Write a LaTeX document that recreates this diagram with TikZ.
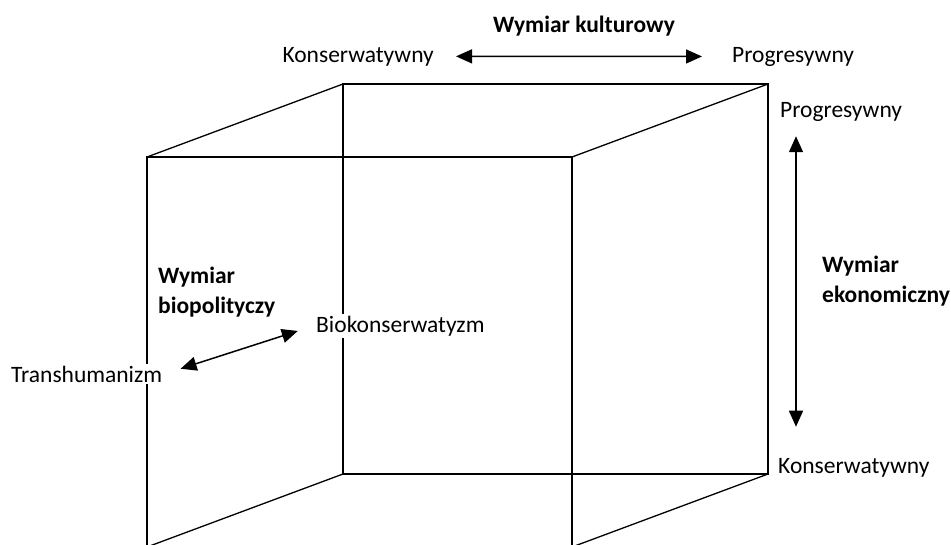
\documentclass[tikz,border=0pt]{standalone}
\usepackage{fontspec}
\setmainfont{Carlito}
\usepackage{tikz}
\usetikzlibrary{arrows.meta, positioning}

\begin{document}
\begin{tikzpicture}[
    x=1pt, y=-1pt,
    cubeline/.style={line width=1.3pt, line join=miter},
    lbl/.style={font=\fontsize{23.5}{30}\selectfont, fill=white, inner sep=2pt},
    hdr/.style={lbl, font=\fontsize{23.5}{30}\selectfont\bfseries, align=left},
    arr/.style={{Triangle[length=16pt, width=14pt]}-{Triangle[length=16pt, width=14pt]}, line width=1.5pt}
]
\useasboundingbox (0,0) rectangle (951,544);
\clip (0,0) rectangle (951,544);

% Cube corners (back face, front face)
\coordinate (b1) at (343,84);
\coordinate (b2) at (768,84);
\coordinate (b3) at (768,474);
\coordinate (b4) at (343,474);
\coordinate (f1) at (147,157);
\coordinate (f2) at (572,157);
\coordinate (f3) at (572,547);
\coordinate (f4) at (147,547);

% Cube
\draw[cubeline] (b1) -- (b2) -- (b3) -- (b4) -- cycle;
\draw[cubeline] (f1) -- (f2) -- (f3) -- (f4) -- cycle;
\draw[cubeline] (b1) -- (f1);
\draw[cubeline] (b2) -- (f2);
\draw[cubeline] (b3) -- (f3);
\draw[cubeline] (b4) -- (f4);

% Wymiar kulturowy
\node[lbl, anchor=base east] (kultL) at (436,62) {Konserwatywny};
\node[lbl, anchor=base west] (kultR) at (730,62) {Progresywny};
\node[hdr, anchor=base] (kult) at (584,32) {Wymiar kulturowy};

% Wymiar ekonomiczny
\node[lbl, anchor=base west] (ekoTop) at (778,117) {Progresywny};
\node[lbl, anchor=base west] (ekoBot) at (776,473) {Konserwatywny};
\node[hdr, anchor=west] (eko) at (820,281) {Wymiar\\ekonomiczny};

% Wymiar biopolityczy
\node[lbl, anchor=base west] (trans) at (9,382) {Transhumanizm};
\node[lbl, anchor=base west] (biokons) at (314,332) {Biokonserwatyzm};
\node[hdr, anchor=west] (bio) at (156,292) {Wymiar\\biopolityczy};

% Arrows
\draw[arr, shorten <=20pt, shorten >=28pt] (kultL.east) -- (kultR.west);
\draw[arr, shorten <=13pt, shorten >=29pt] ([xshift=18pt]ekoTop.south west) -- ([xshift=20pt]ekoBot.north west);
\draw[arr, shorten <=17pt, shorten >=17pt] (trans.east) -- (biokons.west);

\end{tikzpicture}
\end{document}
